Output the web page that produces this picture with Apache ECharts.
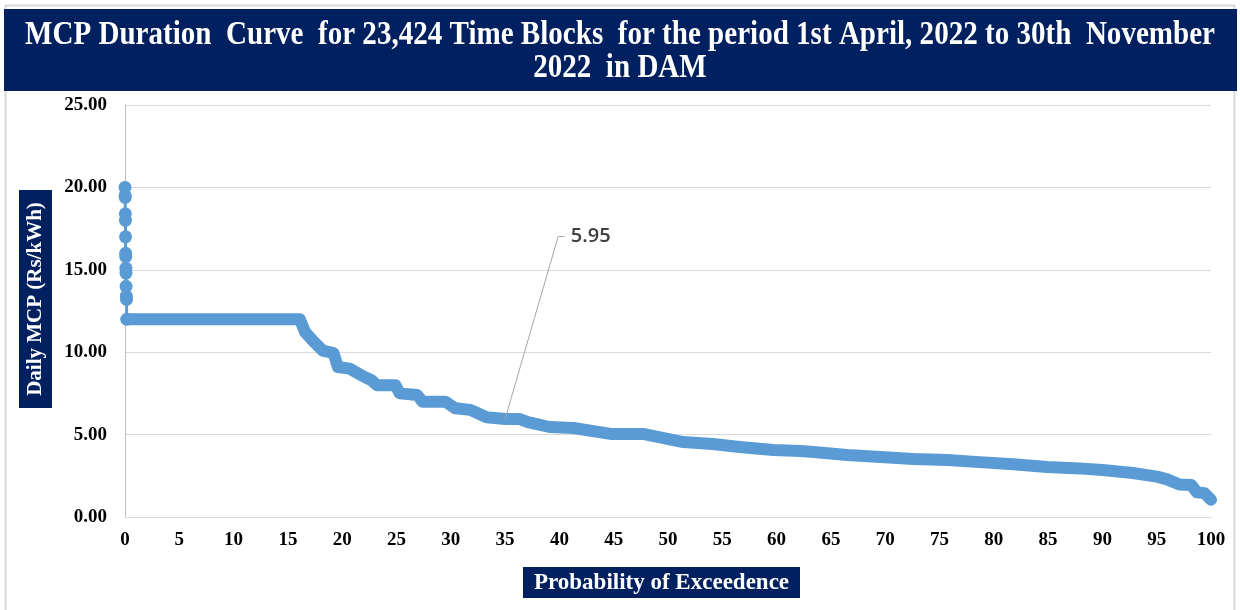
<!DOCTYPE html>
<html>
<head>
<meta charset="utf-8">
<script src="https://cdn.jsdelivr.net/npm/echarts@6/dist/echarts.min.js"></script>
<style>html,body{margin:0;padding:0;background:#fff;}#c{width:1240px;height:610px;}</style>
</head>
<body>
<div id="c"></div>
<script>
// ---- data ----
var titleLines = ['MCP Duration  Curve  for 23,424 Time Blocks  for the period 1st April, 2022 to 30th  November', '2022  in DAM'];
var xAxisTitle = 'Probability of Exceedence';
var yAxisTitle = 'Daily MCP (Rs/kWh)';
var xTicks = [0, 100, 5];
var yTicks = [0, 25, 5];
// vertical spike of high prices at ~0 % exceedence
var spikeX = [0, 0.01, 0.02, 0.03, 0.04, 0.05, 0.06, 0.07, 0.08, 0.09, 0.10, 0.12, 0.14, 0.16];
var spikeY = [20.0, 19.5, 19.4, 18.4, 18.0, 17.0, 16.0, 15.8, 15.1, 14.8, 14.0, 13.4, 13.2, 12.0];
// main duration curve
var curveX = [0.16, 16.1, 16.6, 17.3, 18.2, 19.2, 19.6, 20.7, 21.9, 22.7, 23.2, 24.9, 25.3, 26.9, 27.4, 29.5, 30.4, 31.8, 33.3, 35.0, 36.3, 37.1, 39.1, 41.3, 44.7, 47.7, 51.4, 54.1, 56.6, 59.7, 62.2, 63.4, 66.5, 72.6, 75.7, 78.7, 81.8, 84.9, 87.9, 90.0, 92.8, 95.0, 95.9, 97.1, 98.2, 98.7, 99.4, 100];
var curveY = [12.0, 12.0, 11.2, 10.7, 10.1, 9.95, 9.1, 9.0, 8.55, 8.3, 8.0, 8.0, 7.5, 7.4, 7.0, 7.0, 6.6, 6.5, 6.05, 5.95, 5.95, 5.76, 5.46, 5.4, 5.04, 5.04, 4.55, 4.43, 4.25, 4.07, 4.0, 3.94, 3.76, 3.52, 3.46, 3.33, 3.2, 3.03, 2.95, 2.85, 2.67, 2.45, 2.3, 1.97, 1.94, 1.5, 1.45, 1.05];
var annotX = 35, annotY = 5.95;
var annotTextPos = [39.9, 17.05];

// ---- build ----
var NAVY = '#002060';
var BLUE = '#5b9bd5';
var SERIF = '"Liberation Serif","Times New Roman",serif';

function zip(a, b) { return a.map(function (v, i) { return [v, b[i]]; }); }

var cv = document.createElement('canvas').getContext('2d');
cv.font = 'bold 34px ' + SERIF;
var w1 = cv.measureText(titleLines[0]).width;
var sx = 1190 / w1;

var chart = echarts.init(document.getElementById('c'), null, { renderer: 'canvas' });
chart.setOption({
  animation: false,
  backgroundColor: '#fff',
  grid: { left: 125, right: 29, top: 105, bottom: 93 },
  xAxis: {
    type: 'value', min: xTicks[0], max: xTicks[1], interval: xTicks[2],
    axisLine: { show: true, lineStyle: { color: '#d9d9d9', width: 1 } },
    axisTick: { show: false },
    splitLine: { show: false },
    axisLabel: { margin: 14, color: '#000', fontFamily: SERIF, fontWeight: 'bold', fontSize: 19 }
  },
  yAxis: {
    type: 'value', min: yTicks[0], max: yTicks[1], interval: yTicks[2],
    axisLine: { show: true, lineStyle: { color: '#bfbfbf', width: 1 } },
    axisTick: { show: false },
    splitLine: { show: true, lineStyle: { color: '#d9d9d9', width: 1 } },
    axisLabel: { margin: 18, color: '#000', fontFamily: SERIF, fontWeight: 'bold', fontSize: 19,
      formatter: function (v) { return v.toFixed(2); } }
  },
  series: [
    {
      type: 'line', data: zip(spikeX, spikeY), color: BLUE,
      symbol: 'circle', symbolSize: 13, showSymbol: true,
      lineStyle: { width: 3, color: BLUE },
      itemStyle: { color: BLUE }, z: 3
    },
    {
      type: 'line', data: zip(curveX, curveY), color: BLUE,
      showSymbol: false,
      lineStyle: { width: 12, color: BLUE, cap: 'round', join: 'round' },
      z: 2,
      markLine: {
        silent: true, symbol: 'none',
        lineStyle: { color: '#a6a6a6', width: 1, type: 'solid' },
        label: { show: false },
        data: [
          [{ coord: [annotX, annotY] }, { coord: annotTextPos }],
          [{ coord: annotTextPos }, { coord: [annotTextPos[0] + 0.6, annotTextPos[1]] }]
        ]
      },
      markPoint: {
        silent: true, symbol: 'circle', symbolSize: 0,
        data: [{ coord: [annotTextPos[0] + 0.6, annotTextPos[1]], value: annotY }],
        label: { show: true, position: 'right', distance: 6, formatter: function (p) { return p.value.toFixed(2); },
          color: '#404040', fontSize: 20, fontWeight: 600, fontFamily: '"Open Sans","DejaVu Sans",sans-serif' }
      }
    }
  ],
  graphic: [
    { type: 'rect', shape: { x: 5.5, y: 5.5, width: 1229, height: 620 }, style: { fill: null, stroke: '#d9d9d9', lineWidth: 2 }, z: 0 },
    { type: 'rect', shape: { x: 4, y: 9, width: 1233, height: 82 }, style: { fill: NAVY }, z: 10 },
    { type: 'text', x: 620, y: 35, scaleX: sx, style: { text: titleLines[0], fill: '#fff', font: 'bold 34px ' + SERIF, textAlign: 'center', textVerticalAlign: 'middle' }, z: 11 },
    { type: 'text', x: 620, y: 68, scaleX: sx, style: { text: titleLines[1], fill: '#fff', font: 'bold 34px ' + SERIF, textAlign: 'center', textVerticalAlign: 'middle' }, z: 11 },
    { type: 'rect', shape: { x: 523, y: 567, width: 277, height: 31 }, style: { fill: NAVY }, z: 10 },
    { type: 'text', x: 661.5, y: 583, style: { text: xAxisTitle, fill: '#fff', font: 'bold 23px ' + SERIF, textAlign: 'center', textVerticalAlign: 'middle' }, z: 11 },
    { type: 'rect', shape: { x: 19, y: 190, width: 33, height: 218 }, style: { fill: NAVY }, z: 10 },
    { type: 'text', x: 36, y: 299, rotation: Math.PI / 2, style: { text: yAxisTitle, fill: '#fff', font: 'bold 21px ' + SERIF, textAlign: 'center', textVerticalAlign: 'middle' }, z: 11 }
  ]
});
</script>
</body>
</html>
